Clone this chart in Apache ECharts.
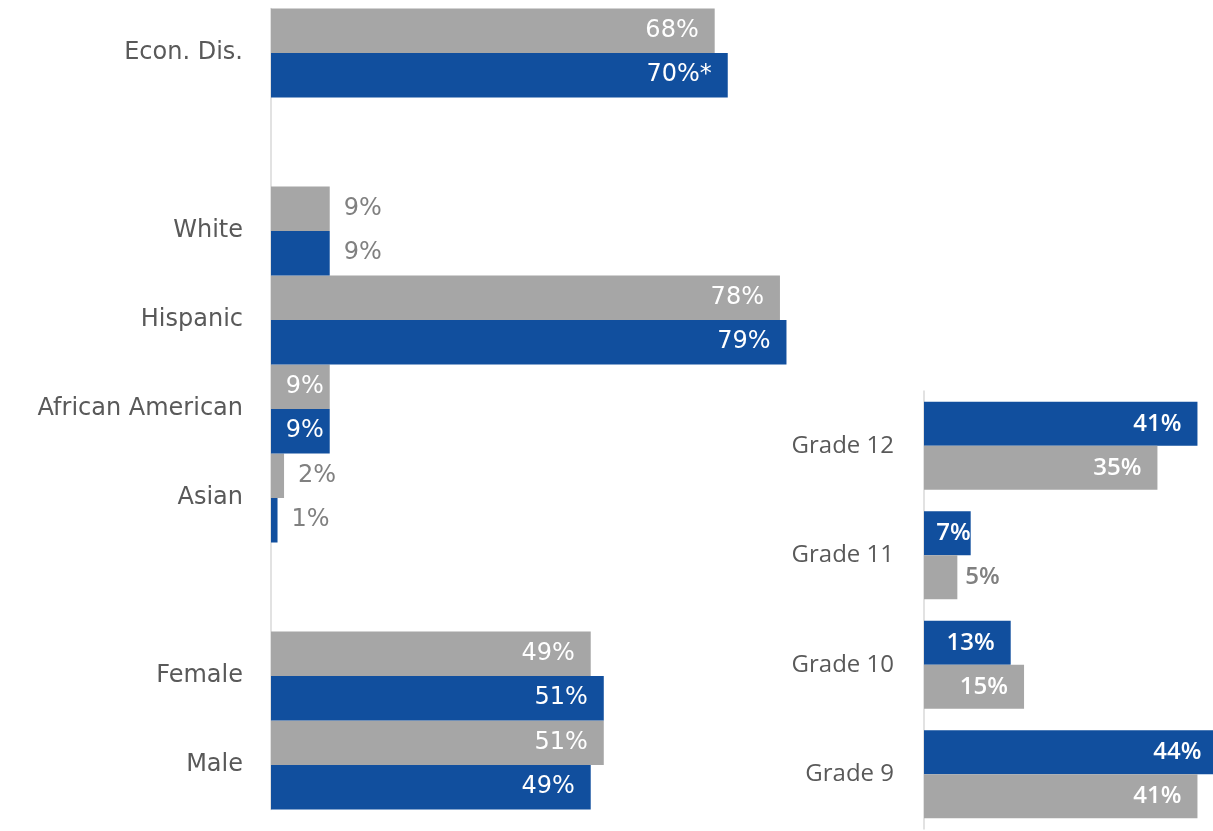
<!DOCTYPE html>
<html>
<head>
<meta charset="utf-8">
<script src="https://cdn.jsdelivr.net/npm/echarts@6/dist/echarts.min.js"></script>
<style>
html,body{margin:0;padding:0;background:#fff;}
#chart{width:1213px;height:831px;}
</style>
</head>
<body>
<div id="chart"></div>
<script>
// ---- data ----
const leftCategories = ['Econ. Dis.', '', 'White', 'Hispanic', 'African American', 'Asian', ' ', 'Female', 'Male'];
const leftGray = [68, null, 9, 78, 9, 2, null, 49, 51];
const leftBlue = [70, null, 9, 79, 9, 1, null, 51, 49];
const leftBlueSuffix = ['*', '', '', '', '', '', '', '', ''];

const rightCategories = ['Grade 12', 'Grade 11', 'Grade 10', 'Grade 9'];
const rightBlue = [41, 7, 13, 44];
const rightGray = [35, 5, 15, 41];

// ---- label placement (style, not data) ----
const leftOutside = ['White', 'Asian'];
const leftCloseInside = ['African American'];
const rightOutsideGray = ['Grade 11'];
const rightEdgeBlue = ['Grade 11'];

const BLUE = '#114F9E';
const GRAY = '#A6A6A6';
const CAT_COLOR = '#595959';
const OUT_COLOR = '#808080';
const LEFT_FONT = '"DejaVu Sans", sans-serif';
const RIGHT_FONT = '"Open Sans", sans-serif';

function leftItems(values, suffix) {
  return values.map((v, i) => {
    const cat = leftCategories[i];
    const txt = v == null ? '' : v + '%' + (suffix ? suffix[i] : '');
    let label;
    if (leftOutside.includes(cat)) {
      label = {show: true, position: 'right', distance: 14, color: OUT_COLOR, formatter: txt};
    } else if (leftCloseInside.includes(cat)) {
      label = {show: true, position: 'insideRight', distance: 6, color: '#fff', formatter: txt};
    } else {
      label = {show: true, position: 'insideRight', distance: 16, color: '#fff', formatter: txt};
    }
    return {value: v, label: label};
  });
}

function rightItems(values, isGray) {
  return values.map((v, i) => {
    const cat = rightCategories[i];
    const txt = v + '%';
    let label;
    if (isGray && rightOutsideGray.includes(cat)) {
      label = {show: true, position: 'right', distance: 8, color: OUT_COLOR, formatter: txt};
    } else if (!isGray && rightEdgeBlue.includes(cat)) {
      label = {show: true, position: 'insideRight', distance: 0, color: '#fff', formatter: txt};
    } else {
      label = {show: true, position: 'insideRight', distance: 16, color: '#fff', formatter: txt};
    }
    return {value: v, label: label};
  });
}

const chart = echarts.init(document.getElementById('chart'), null, {renderer: 'canvas'});
const axisLine = {show: true, lineStyle: {color: '#D9D9D9', width: 1.5}};

chart.setOption({
  animation: false,
  backgroundColor: '#fff',
  grid: [
    {left: 271, top: 8.5, width: 652.5, height: 801},
    {left: 924, top: 391, width: 289, height: 438}
  ],
  xAxis: [
    {type: 'value', gridIndex: 0, min: 0, max: 100, show: false, splitLine: {show: false}},
    {type: 'value', gridIndex: 1, min: 0, max: 43.33, show: false, splitLine: {show: false}}
  ],
  yAxis: [
    {type: 'category', gridIndex: 0, data: leftCategories, inverse: true,
     axisLine: axisLine, axisTick: {show: false},
     axisLabel: {margin: 28, color: CAT_COLOR, fontSize: 24, fontFamily: LEFT_FONT}},
    {type: 'category', gridIndex: 1, data: rightCategories, inverse: true,
     axisLine: axisLine, axisTick: {show: false},
     axisLabel: {margin: 30, color: CAT_COLOR, fontSize: 24, fontFamily: RIGHT_FONT, fontWeight: 500}}
  ],
  series: [
    {type: 'bar', name: 'gray-left', xAxisIndex: 0, yAxisIndex: 0, data: leftItems(leftGray),
     itemStyle: {color: GRAY}, barCategoryGap: '0%', barGap: '0%',
     label: {fontSize: 24, fontFamily: LEFT_FONT}},
    {type: 'bar', name: 'blue-left', xAxisIndex: 0, yAxisIndex: 0, data: leftItems(leftBlue, leftBlueSuffix),
     itemStyle: {color: BLUE}, barCategoryGap: '0%', barGap: '0%',
     label: {fontSize: 24, fontFamily: LEFT_FONT}},
    {type: 'bar', name: 'blue-right', xAxisIndex: 1, yAxisIndex: 1, data: rightItems(rightBlue, false),
     itemStyle: {color: BLUE}, barCategoryGap: '19.6%', barGap: '0%', clip: false,
     label: {fontSize: 24, fontFamily: RIGHT_FONT, fontWeight: 600}},
    {type: 'bar', name: 'gray-right', xAxisIndex: 1, yAxisIndex: 1, data: rightItems(rightGray, true),
     itemStyle: {color: GRAY}, barCategoryGap: '19.6%', barGap: '0%', clip: false,
     label: {fontSize: 24, fontFamily: RIGHT_FONT, fontWeight: 600}}
  ]
});
</script>
</body>
</html>
